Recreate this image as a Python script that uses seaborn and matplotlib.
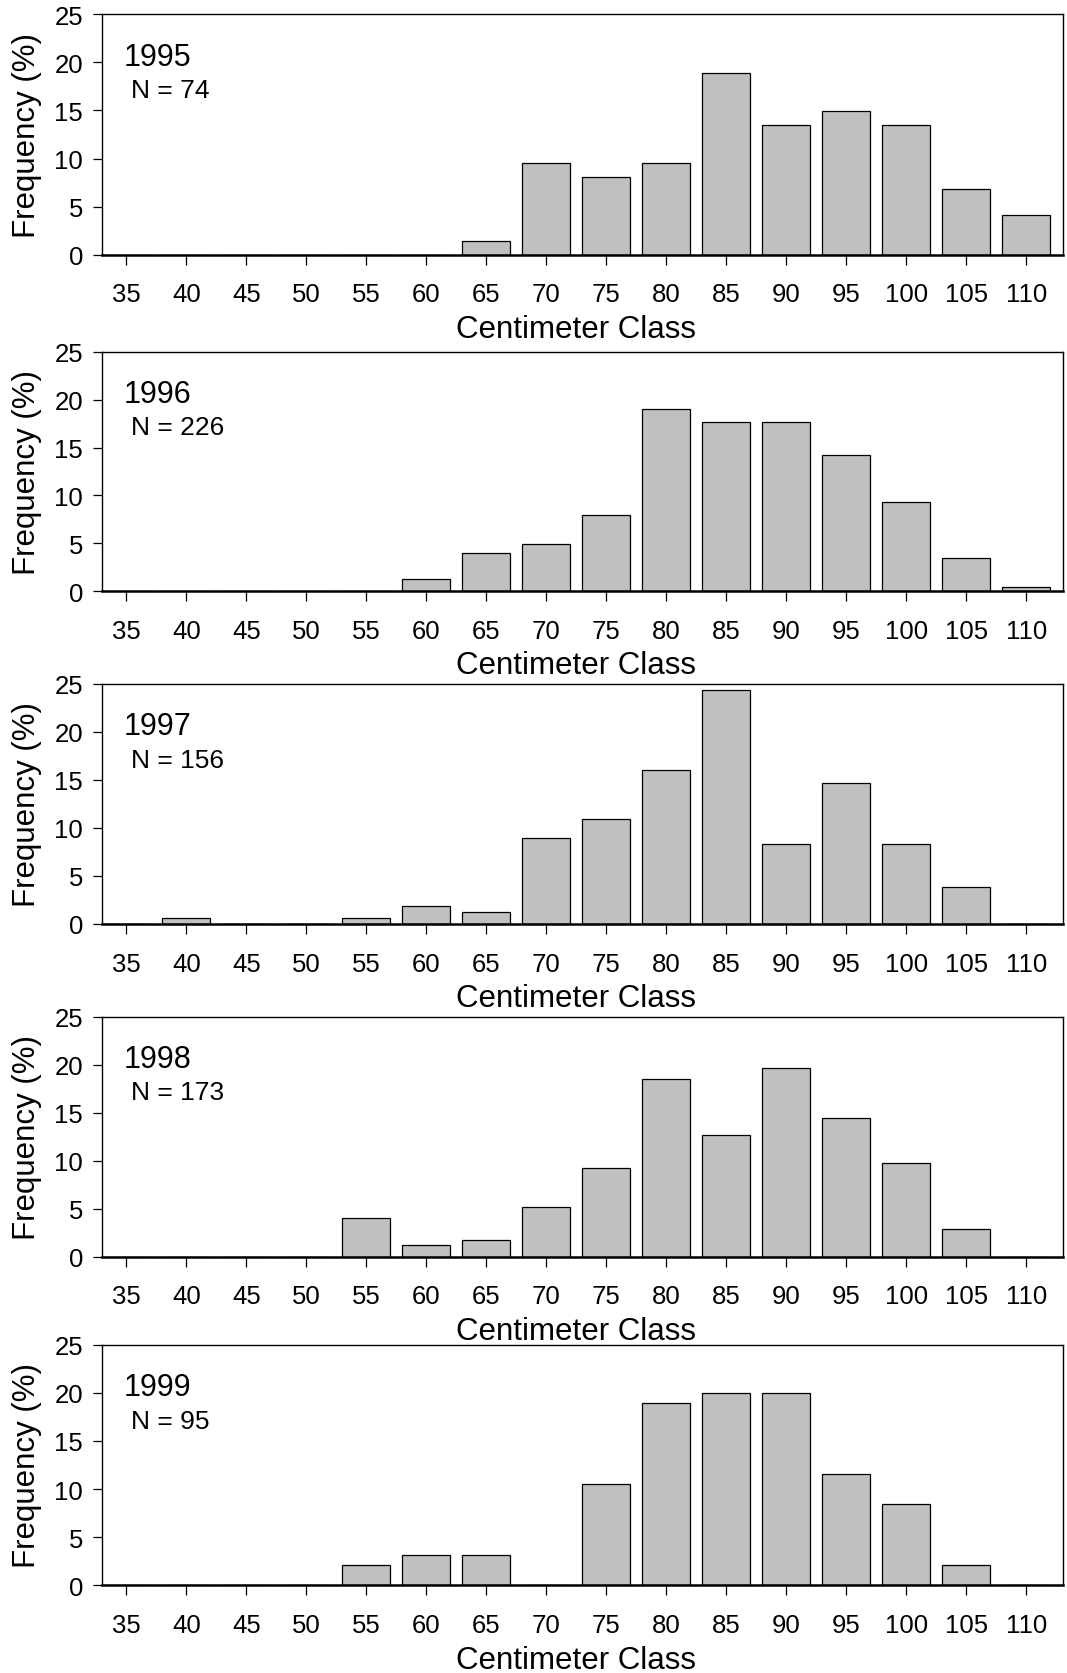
import matplotlib
matplotlib.use("Agg")
import matplotlib.pyplot as plt
import seaborn as sns
import pandas as pd

classes = ["35", "40", "45", "50", "55", "60", "65", "70", "75", "80",
           "85", "90", "95", "100", "105", "110"]

years = ["1995", "1996", "1997", "1998", "1999"]
n_values = [74, 226, 156, 173, 95]

freq_1995 = [0, 0, 0, 0, 0, 0, 1.4, 9.5, 8.1, 9.5, 18.9, 13.5, 14.9, 13.5, 6.8, 4.1]
freq_1996 = [0, 0, 0, 0, 0, 1.3, 4.0, 4.9, 8.0, 19.0, 17.7, 17.7, 14.2, 9.3, 3.5, 0.4]
freq_1997 = [0, 0.6, 0, 0, 0.6, 1.9, 1.3, 9.0, 10.9, 16.0, 24.4, 8.3, 14.7, 8.3, 3.9, 0]
freq_1998 = [0, 0, 0, 0, 4.0, 1.2, 1.7, 5.2, 9.2, 18.5, 12.7, 19.7, 14.5, 9.8, 2.9, 0]
freq_1999 = [0, 0, 0, 0, 2.1, 3.2, 3.2, 0, 10.5, 18.9, 20.0, 20.0, 11.6, 8.4, 2.1, 0]

all_freqs = [freq_1995, freq_1996, freq_1997, freq_1998, freq_1999]

plt.rcParams["font.family"] = ["Liberation Sans", "DejaVu Sans"]

W, H = 1067, 1674
fig = plt.figure(figsize=(W / 100, H / 100), dpi=100)

left_px, right_px = 101.7, 1063.0
panels_px = [(15.3, 255.7), (352.7, 592.3), (685.0, 925.0),
             (1017.7, 1257.7), (1345.7, 1586.3)]

for year, n, freqs, (top, bot) in zip(years, n_values, all_freqs, panels_px):
    ax = fig.add_axes([left_px / W, 1 - bot / H, (right_px - left_px) / W, (bot - top) / H])
    df = pd.DataFrame({"cls": classes, "freq": freqs})
    sns.barplot(data=df, x="cls", y="freq", order=classes, color="#c0c0c0",
                edgecolor="black", linewidth=0.9, width=0.8, saturation=1, ax=ax)
    ax.set_xlim(-0.41, 15.61)
    ax.set_ylim(0, 25)
    ax.set_yticks([0, 5, 10, 15, 20, 25])
    for s in ["left", "top", "right"]:
        ax.spines[s].set_visible(True)
        ax.spines[s].set_linewidth(1.0)
        ax.spines[s].set_color("black")
    ax.spines["bottom"].set_linewidth(1.8)
    ax.spines["bottom"].set_color("black")
    ax.tick_params(axis="x", direction="out", length=7, width=0.9, pad=13, labelsize=18.5, colors="black")
    ax.tick_params(axis="y", direction="out", length=6.5, width=0.9, pad=7, labelsize=18.5, colors="black")
    ax.set_xlabel("Centimeter Class", fontsize=22.5)
    ax.set_ylabel("Frequency (%)", fontsize=22.5)
    ax.xaxis.set_label_coords(0.4937, -0.247)
    ax.yaxis.set_label_coords(-0.062, 0.5)
    ax.text(0.0232, 0.79, year, transform=ax.transAxes, fontsize=22, ha="left", va="baseline")
    ax.text(0.0305, 0.655, f"N = {n}", transform=ax.transAxes, fontsize=19, ha="left", va="baseline")
    ax.set_facecolor("white")

fig.savefig("out.png", dpi=100, facecolor="white")
